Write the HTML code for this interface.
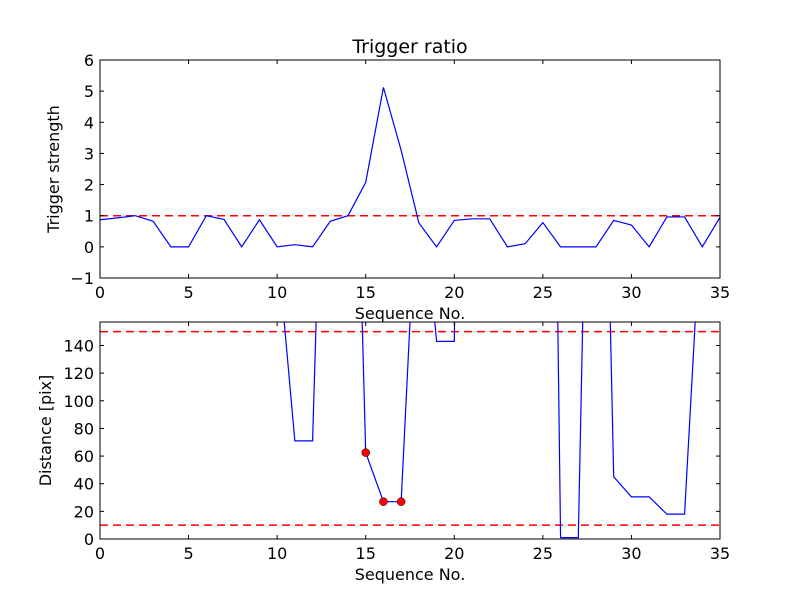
<!DOCTYPE html>
<html><head><meta charset="utf-8"><style>
html,body{margin:0;padding:0;background:#fff;}
svg text{font-family:"DejaVu Sans","Liberation Sans",sans-serif;fill:#000;}
</style></head><body>
<svg id="fig" width="800" height="600" viewBox="0 0 800 600" xmlns="http://www.w3.org/2000/svg">
<rect width="800" height="600" fill="#fff"/>
<g id="top"></g>
<g id="bot"></g>
</svg>
<script>
const seqNo = [];
for (let i = 0; i <= 35; i++) seqNo.push(i);
const triggerStrength = [0.87,0.93,1.0,0.82,0,0,1.0,0.88,0,0.87,0,0.07,0,0.82,1.0,2.07,5.12,3.1,0.77,0,0.85,0.9,0.9,0,0.1,0.78,0,0,0,0.85,0.7,0,0.96,0.96,0,0.95];
const distance = [1000,1000,1000,1000,1000,1000,1000,1000,1000,1000,214,71,71,500,537,62.5,27,27,287,143,143,1000,1000,1000,1000,1000,1,1,625,45,30.5,30.5,18,18,250,1000];
const markedIdx = [15,16,17];
const topTicksY = [-1,0,1,2,3,4,5,6];
const botTicksY = [0,20,40,60,80,100,120,140];
const ticksX = [0,5,10,15,20,25,30,35];
const topThreshold = [1];
const botThresholds = [150,10];

const NS = "http://www.w3.org/2000/svg";
function mk(parent, tag, attrs, name, text) {
  const e = document.createElementNS(NS, tag);
  for (const k in attrs) e.setAttribute(k, attrs[k]);
  
  
  if (text !== undefined) e.textContent = text;
  parent.appendChild(e);
  return e;
}
function panel(g, L, T, R, B, yMin, yMax, yTicks, ys, thresholds, xlabel, ylabel, labelX, title, marks, clipId) {
  const sx = v => L + (v - 0) / 35 * (R - L);
  const sy = v => B - (v - yMin) / (yMax - yMin) * (B - T);
  const defs = mk(g, 'defs', {}, 'defs');
  const cp = mk(defs, 'clipPath', {id: clipId}, 'clip');
  mk(cp, 'rect', {x: L, y: T, width: R - L, height: B - T}, 'clip-rect');
  const plot = mk(g, 'g', {'clip-path': 'url(#' + clipId + ')'}, 'plot-area');
  thresholds.forEach(t => {
    mk(plot, 'line', {x1: L, x2: R, y1: sy(t), y2: sy(t), stroke: '#ff0000', 'stroke-width': 1.5, 'stroke-dasharray': '8,5'}, 'threshold-line');
  });
  let d = '';
  seqNo.forEach((x, i) => { d += (i ? 'L' : 'M') + sx(x).toFixed(2) + ',' + sy(ys[i]).toFixed(2); });
  mk(plot, 'path', {d: d, fill: 'none', stroke: '#0000ff', 'stroke-width': 1.2}, 'data-line');
  if (marks) marks.forEach(i => {
    mk(plot, 'circle', {cx: sx(seqNo[i]), cy: sy(ys[i]), r: 4, fill: '#ff0000', stroke: '#000', 'stroke-width': 0.5}, 'marked-point');
  });
  mk(g, 'rect', {x: L, y: T, width: R - L, height: B - T, fill: 'none', stroke: '#000', 'stroke-width': 1}, 'axes-frame');
  ticksX.forEach(v => {
    const x = sx(v);
    mk(g, 'line', {x1: x, x2: x, y1: B, y2: B - 4, stroke: '#000'}, 'x-tick');
    mk(g, 'line', {x1: x, x2: x, y1: T, y2: T + 4, stroke: '#000'}, 'x-tick');
    mk(g, 'text', {x: x, y: B + 20, 'text-anchor': 'middle', 'font-size': 16}, 'x-tick-label', String(v));
  });
  yTicks.forEach(v => {
    const y = sy(v);
    mk(g, 'line', {x1: L, x2: L + 4, y1: y, y2: y, stroke: '#000'}, 'y-tick');
    mk(g, 'line', {x1: R, x2: R - 4, y1: y, y2: y, stroke: '#000'}, 'y-tick');
    mk(g, 'text', {x: L - 6, y: y + 6, 'text-anchor': 'end', 'font-size': 16}, 'y-tick-label', v < 0 ? '\u2212' + (-v) : String(v));
  });
  mk(g, 'text', {x: (L + R) / 2, y: B + 41, 'text-anchor': 'middle', 'font-size': 16}, 'x-axis-title', xlabel);
  const cy = (T + B) / 2;
  mk(g, 'text', {x: labelX, y: cy, 'text-anchor': 'middle', 'font-size': 16, transform: 'rotate(-90 ' + labelX + ' ' + cy + ')'}, 'y-axis-title', ylabel);
  if (title) mk(g, 'text', {x: (L + R) / 2, y: 53, 'text-anchor': 'middle', 'font-size': 19}, 'chart-title', title);
}
panel(document.getElementById('top'), 100, 60, 720, 278, -1, 6, topTicksY, triggerStrength, topThreshold, 'Sequence No.', 'Trigger strength', 59, 'Trigger ratio', null, 'c1');
panel(document.getElementById('bot'), 100, 322, 720, 539, 0, 157, botTicksY, distance, botThresholds, 'Sequence No.', 'Distance [pix]', 51, null, markedIdx, 'c2');
</script>
</body></html>
